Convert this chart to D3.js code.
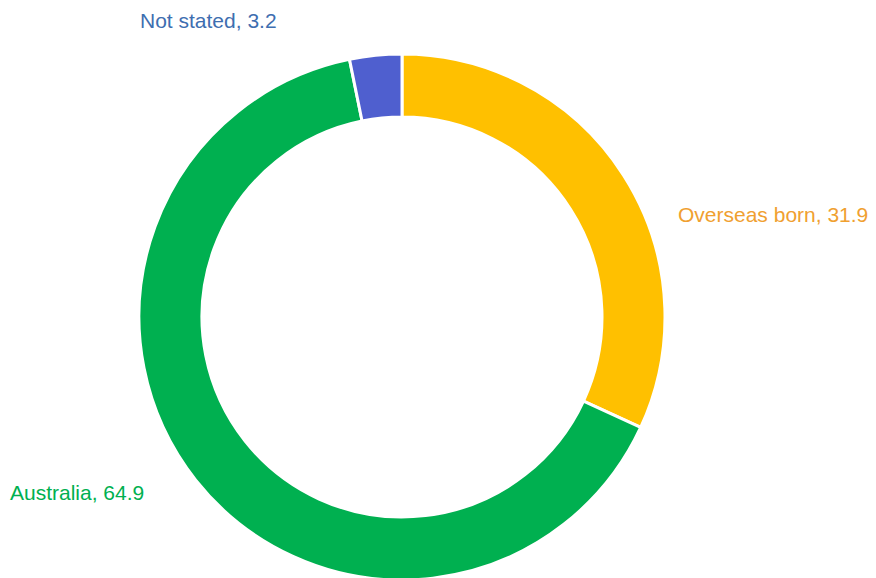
<!DOCTYPE html>
<html>
<head>
<meta charset="utf-8">
<script src="https://cdn.jsdelivr.net/npm/d3@7"></script>
<style>
  html, body { margin: 0; padding: 0; background: #fff; }
  svg { display: block; font-family: "Liberation Sans", Arial, sans-serif; }
</style>
</head>
<body>
<svg id="chart" width="876" height="578"></svg>
<script>
// Birthplace shares (%)
const categories = ["Overseas born", "Australia", "Not stated"];
const values = [31.9, 64.9, 3.2];
const sliceColors = ["#FFC000", "#00B050", "#4F5FCF"];
const labelColors = ["#F0A030", "#00B050", "#3E6EB0"];

const svg = d3.select("#chart");
const cx = 402, cy = 317;
const outerR = 263, innerR = 200;

const data = categories.map((c, i) => ({ name: c, value: values[i], i }));

const pie = d3.pie().value(d => d.value).sort(null);
const arc = d3.arc().innerRadius(innerR).outerRadius(outerR);
const arcs = pie(data);

const g = svg.append("g").attr("transform", `translate(${cx},${cy})`);
g.selectAll("path")
  .data(arcs)
  .join("path")
  .attr("d", arc)
  .attr("fill", d => sliceColors[d.data.i])
  .attr("stroke", "#fff")
  .attr("stroke-width", 3)
  .attr("stroke-linejoin", "round");

// Label anchor points around the ring
const labelPos = [
  { x: 678, y: 222, anchor: "start" },
  { x: 10, y: 500, anchor: "start" },
  { x: 140, y: 28, anchor: "start" }
];

svg.selectAll("text.lbl")
  .data(arcs)
  .join("text")
  .attr("class", "lbl")
  .attr("x", d => labelPos[d.data.i].x)
  .attr("y", d => labelPos[d.data.i].y)
  .attr("text-anchor", d => labelPos[d.data.i].anchor)
  .attr("font-size", 21)
  .attr("fill", d => labelColors[d.data.i])
  .text(d => `${d.data.name}, ${d.data.value}`);
</script>
</body>
</html>
